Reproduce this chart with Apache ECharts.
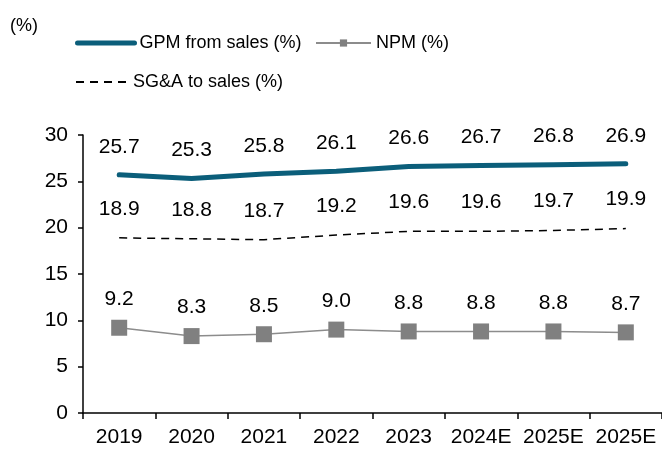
<!DOCTYPE html>
<html>
<head>
<meta charset="utf-8">
<script src="https://cdn.jsdelivr.net/npm/echarts@6/dist/echarts.min.js"></script>
<style>
  html, body { margin: 0; padding: 0; background: #fff; }
  #chart { width: 662px; height: 450px; }
</style>
</head>
<body>
<div id="chart"></div>
<script>
// 年份
var years = ["2019", "2020", "2021", "2022", "2023", "2024E", "2025E", "2025E"];
// GPM from sales (%)
var gpm = [25.7, 25.3, 25.8, 26.1, 26.6, 26.7, 26.8, 26.9];
// SG&A to sales (%)
var sga = [18.9, 18.8, 18.7, 19.2, 19.6, 19.6, 19.7, 19.9];
// NPM (%)
var npm = [9.2, 8.3, 8.5, 9.0, 8.8, 8.8, 8.8, 8.7];

var FONT = "Liberation Sans, Arial, sans-serif";

var myecharts = echarts.init(document.getElementById("chart"));

function oneDecimal(params) {
  return params.value.toFixed(1);
}

var legendText = { fontSize: 18, color: "#000", fontFamily: FONT };

var Option = {
  animation: false,
  textStyle: { fontFamily: FONT },
  title: {
    text: "(%)",
    left: 5,
    top: 12,
    textStyle: { fontSize: 18, fontWeight: "normal", color: "#000", fontFamily: FONT }
  },
  legend: [
    {
      left: 70,
      top: 29,
      itemWidth: 57,
      itemHeight: 9,
      textStyle: legendText,
      lineStyle: { width: 5, cap: "round" },
      data: ["GPM from sales (%)"]
    },
    {
      left: 310,
      top: 29,
      itemWidth: 55,
      itemHeight: 9,
      textStyle: legendText,
      data: ["NPM (%)"]
    },
    {
      left: 70,
      top: 68,
      itemWidth: 52,
      itemHeight: 9,
      textStyle: legendText,
      data: ["SG&A to sales (%)"]
    }
  ],
  grid: {
    left: 83,
    right: 0,
    top: 135,
    bottom: 37
  },
  xAxis: {
    type: "category",
    data: years,
    boundaryGap: true,
    axisLine: { lineStyle: { color: "#000", width: 1.5 } },
    axisTick: { show: true, length: 6, lineStyle: { color: "#000", width: 1.5 } },
    axisLabel: { fontSize: 21, color: "#000", margin: 14, interval: 0, fontFamily: FONT }
  },
  yAxis: {
    type: "value",
    min: 0,
    max: 30,
    interval: 5,
    axisLine: { show: true, lineStyle: { color: "#000", width: 1.5 } },
    axisTick: { show: true, length: 5, lineStyle: { color: "#000", width: 1.5 } },
    axisLabel: { fontSize: 21, color: "#000", margin: 15, fontFamily: FONT },
    splitLine: { show: false }
  },
  series: [
    {
      name: "GPM from sales (%)",
      type: "line",
      data: gpm,
      symbol: "circle",
      symbolSize: 1,
      lineStyle: { color: "#0b5e7a", width: 5, cap: "round" },
      itemStyle: { color: "rgba(0,0,0,0)" },
      label: {
        show: true,
        position: "top",
        distance: 17,
        fontSize: 21,
        color: "#000",
        fontFamily: FONT,
        formatter: oneDecimal
      }
    },
    {
      name: "NPM (%)",
      type: "line",
      data: npm,
      symbol: "rect",
      symbolSize: 16,
      lineStyle: { color: "#8c8c8c", width: 1.5 },
      itemStyle: { color: "#808080" },
      label: {
        show: true,
        position: "top",
        distance: 10,
        fontSize: 21,
        color: "#000",
        fontFamily: FONT,
        formatter: oneDecimal
      }
    },
    {
      name: "SG&A to sales (%)",
      type: "line",
      data: sga,
      symbol: "circle",
      symbolSize: 1,
      lineStyle: { color: "#000", width: 1.5, type: [8, 6] },
      itemStyle: { color: "rgba(0,0,0,0)" },
      label: {
        show: true,
        position: "top",
        distance: 18,
        fontSize: 21,
        color: "#000",
        fontFamily: FONT,
        formatter: oneDecimal
      }
    }
  ]
};

myecharts.setOption(Option);
</script>
</body>
</html>
